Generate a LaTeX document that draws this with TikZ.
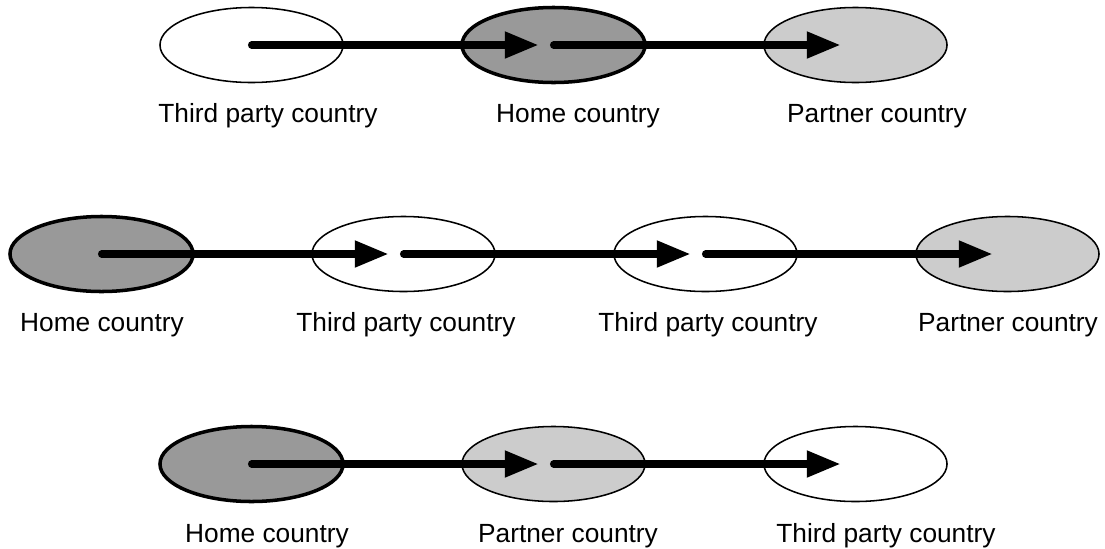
\documentclass[tikz,border=0pt]{standalone}
\usepackage{fontspec}
\setmainfont{Liberation Sans}
\usetikzlibrary{shapes.geometric, arrows.meta}
\definecolor{homegray}{gray}{0.6}
\definecolor{partnergray}{gray}{0.8}
\tikzset{
country/.style={ellipse, draw, line width=1.1pt, minimum width=4.575cm, minimum height=1.875cm, inner sep=0pt},
home/.style={country, fill=homegray, line width=2.5pt},
partner/.style={country, fill=partnergray},
third/.style={country, fill=white},
flow/.style={line width=5pt, line cap=round, -{Triangle[length=24pt, width=18pt]}},
lbl/.style={anchor=base, inner sep=0pt, font=\fontsize{18.7}{22}\selectfont}
}

\begin{document}
\begin{tikzpicture}[x=0.025cm, y=-0.025cm]
  \useasboundingbox (0,0) rectangle (1105,548);

  % first route
  \node[third]   (a1) at (251.5,45) {};
  \node[home]    (a2) at (553.5,45) {};
  \node[partner] (a3) at (855.5,45) {};
  \draw[flow] (a1.center) -- ([xshift=-0.375cm]a2.center);
  \draw[flow] (a2.center) -- ([xshift=-0.375cm]a3.center);
  \node[lbl] (a1-l) at (268,122) {Third party country};
  \node[lbl] (a2-l) at (578,122) {Home country};
  \node[lbl] (a3-l) at (877,122) {Partner country};

  % second route
  \node[home]    (b1) at (101.5,254) {};
  \node[third]   (b2) at (403.5,254) {};
  \node[third]   (b3) at (705.5,254) {};
  \node[partner] (b4) at (1007.5,254) {};
  \draw[flow] (b1.center) -- ([xshift=-0.375cm]b2.center);
  \draw[flow] (b2.center) -- ([xshift=-0.375cm]b3.center);
  \draw[flow] (b3.center) -- ([xshift=-0.375cm]b4.center);
  \node[lbl] (b1-l) at (102,331) {Home country};
  \node[lbl] (b2-l) at (406,331) {Third party country};
  \node[lbl] (b3-l) at (708,331) {Third party country};
  \node[lbl] (b4-l) at (1008,331) {Partner country};

  % third route
  \node[home]    (c1) at (251.5,464) {};
  \node[partner] (c2) at (553.5,464) {};
  \node[third]   (c3) at (855.5,464) {};
  \draw[flow] (c1.center) -- ([xshift=-0.375cm]c2.center);
  \draw[flow] (c2.center) -- ([xshift=-0.375cm]c3.center);
  \node[lbl] (c1-l) at (267,542) {Home country};
  \node[lbl] (c2-l) at (568,542) {Partner country};
  \node[lbl] (c3-l) at (886,542) {Third party country};
\end{tikzpicture}
\end{document}
